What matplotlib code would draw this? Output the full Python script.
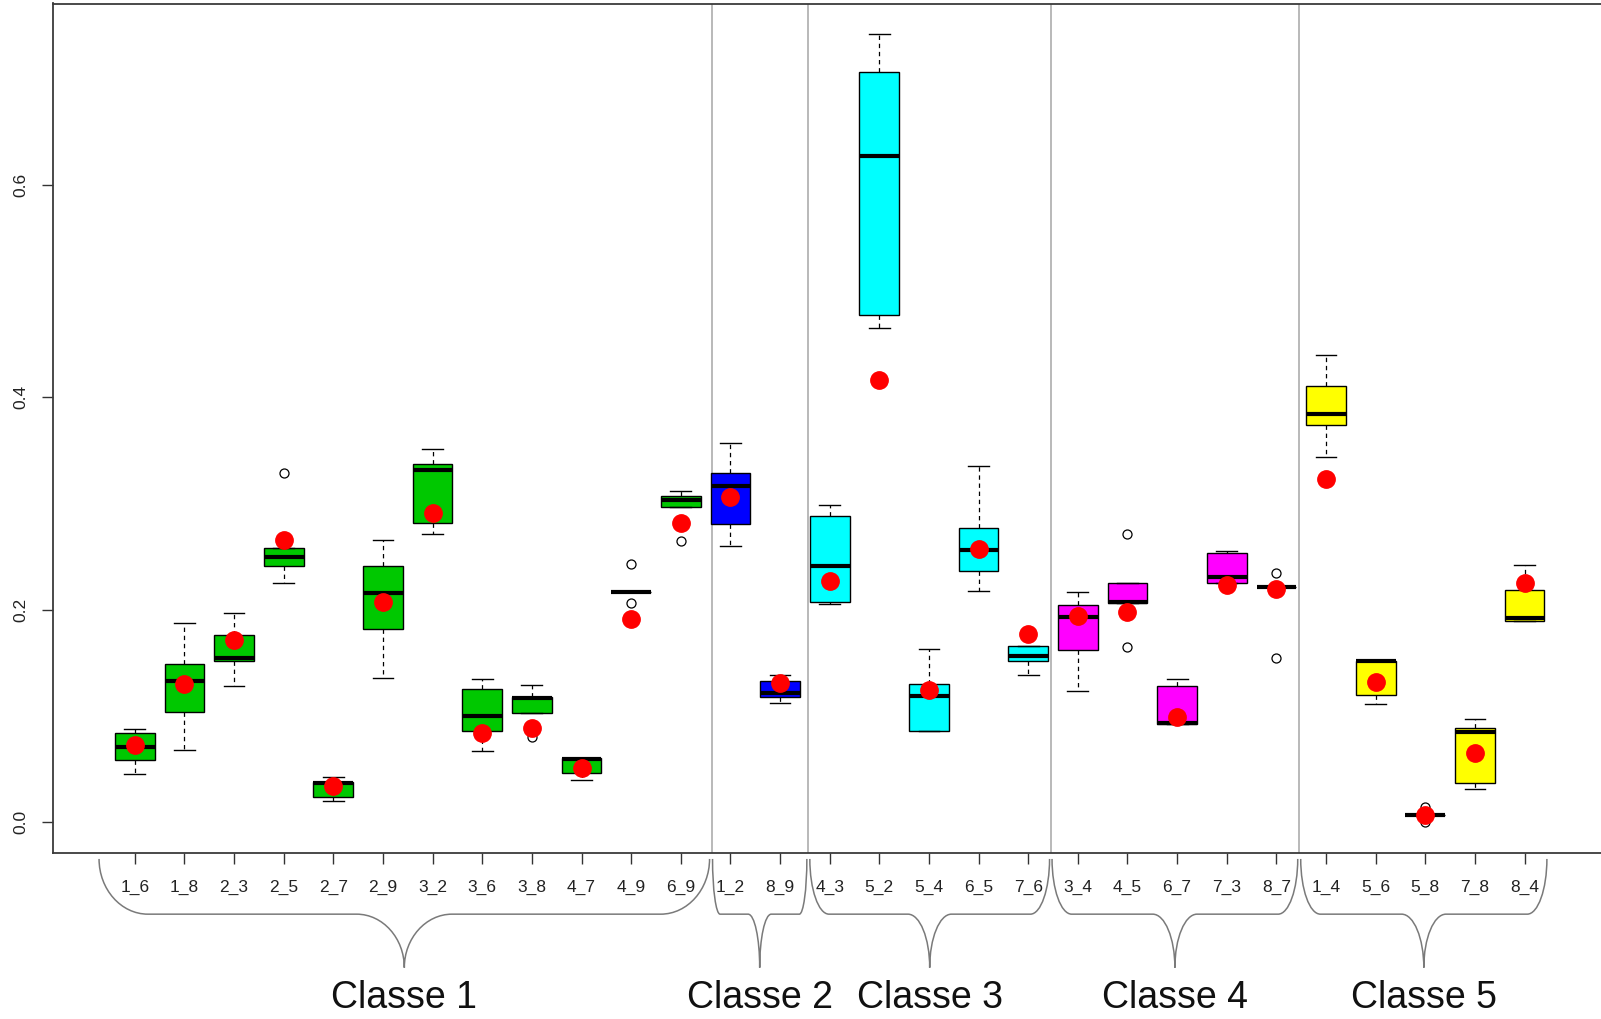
import matplotlib
matplotlib.use("Agg")
import matplotlib.pyplot as plt
import matplotlib.transforms as mtransforms
from matplotlib.path import Path
from matplotlib.patches import PathPatch

# DATA
pairs = ["1_6", "1_8", "2_3", "2_5", "2_7", "2_9", "3_2", "3_6", "3_8", "4_7", "4_9", "6_9",
         "1_2", "8_9",
         "4_3", "5_2", "5_4", "6_5", "7_6",
         "3_4", "4_5", "6_7", "7_3", "8_7",
         "1_4", "5_6", "5_8", "7_8", "8_4"]
classes = ["Classe 1", "Classe 2", "Classe 3", "Classe 4", "Classe 5"]
class_sizes = [12, 2, 5, 5, 5]
class_colors = ["#00c800", "#0000ff", "#00ffff", "#ff00ff", "#ffff00"]

med = [0.0702, 0.133, 0.1543, 0.2498, 0.0369, 0.2155, 0.3314, 0.0997, 0.1164, 0.0593, 0.2162, 0.3031,
       0.3163, 0.1211,
       0.241, 0.6274, 0.1186, 0.2558, 0.1562,
       0.1932, 0.2074, 0.0928, 0.2303, 0.2216,
       0.3838, 0.1511, 0.0065, 0.0845, 0.1921]
q1 = [0.0583, 0.1038, 0.1518, 0.241, 0.0237, 0.182, 0.2812, 0.0856, 0.1029, 0.0457, 0.2162, 0.2962,
      0.2802, 0.1173,
      0.2068, 0.4773, 0.0856, 0.2366, 0.1518,
      0.1616, 0.2064, 0.0919, 0.2247, 0.2216,
      0.3738, 0.1195, 0.0065, 0.0367, 0.1888]
q3 = [0.0834, 0.1487, 0.176, 0.2579, 0.0379, 0.241, 0.337, 0.1255, 0.1173, 0.0605, 0.2162, 0.3072,
      0.3283, 0.133,
      0.2884, 0.7064, 0.1299, 0.2768, 0.1659,
      0.204, 0.2247, 0.128, 0.2529, 0.2216,
      0.4101, 0.1511, 0.0065, 0.0885, 0.2184]
whislo = [0.0451, 0.0677, 0.128, 0.2253, 0.0197, 0.1352, 0.2711, 0.0668, 0.1029, 0.0395, 0.2162, 0.2962,
          0.2601, 0.1117,
          0.2052, 0.4654, 0.0856, 0.2172, 0.1383,
          0.1233, 0.2064, 0.0919, 0.2247, 0.2216,
          0.3435, 0.1114, 0.0065, 0.0314, 0.1888]
whishi = [0.0878, 0.1876, 0.197, 0.2579, 0.042, 0.2655, 0.3509, 0.1343, 0.1289, 0.0605, 0.2162, 0.3116,
          0.3565, 0.1383,
          0.2981, 0.7417, 0.1625, 0.3354, 0.1659,
          0.2168, 0.2247, 0.1343, 0.2554, 0.2216,
          0.44, 0.1511, 0.0065, 0.0969, 0.2419]
fliers = [[], [], [], [0.3289], [], [], [], [], [0.0803], [], [0.2426, 0.2064], [0.2645],
          [], [],
          [], [], [], [], [],
          [], [0.2711, 0.165], [], [], [0.2347, 0.1542],
          [], [], [0.014, 0.0], [], []]
means = [0.0721, 0.1296, 0.1713, 0.2655, 0.0338, 0.2074, 0.2912, 0.0834, 0.0881, 0.0511, 0.1908, 0.2818,
         0.3057, 0.1305,
         0.2269, 0.4161, 0.1242, 0.2567, 0.1769,
         0.1939, 0.1974, 0.0991, 0.2231, 0.219,
         0.3226, 0.1316, 0.0065, 0.065, 0.2248]

separators = [12.62, 14.57, 19.45, 24.46]
brace_spans = [(0.28, 12.58), (12.64, 14.54), (14.6, 19.43), (19.48, 24.43), (24.49, 29.45)]

positions = list(range(1, len(pairs) + 1))
colors = []
for c, n in zip(class_colors, class_sizes):
    colors += [c] * n

stats = []
for i in range(len(pairs)):
    stats.append(dict(med=med[i], q1=q1[i], q3=q3[i], whislo=whislo[i], whishi=whishi[i],
                      fliers=fliers[i], label=pairs[i]))

fig = plt.figure(figsize=(16.01, 10.19), dpi=100)
ax = fig.add_axes([53 / 1601, (1019 - 853) / 1019, (1601 - 53) / 1601, (853 - 3.5) / 1019])

for x in separators:
    ax.axvline(x, color="#a6a6a6", lw=1.1, zorder=1)

bp = ax.bxp(stats, positions=positions, widths=0.8, capwidths=0.42, patch_artist=True,
            boxprops=dict(edgecolor="black", linewidth=1.0),
            medianprops=dict(color="black", linewidth=3.0, solid_capstyle="butt"),
            whiskerprops=dict(color="black", linewidth=0.9, linestyle=(0, (3.5, 3))),
            capprops=dict(color="black", linewidth=1.0),
            flierprops=dict(marker="o", markerfacecolor="none", markeredgecolor="black",
                            markersize=6.5, markeredgewidth=0.9))
for patch, col in zip(bp["boxes"], colors):
    patch.set_facecolor(col)
    patch.set_zorder(2)

ax.plot(positions, means, "o", color="#ff0000", markersize=12.5, zorder=5, linestyle="none")

ax.set_xlim(-0.648, 30.54)
ax.set_ylim(-0.0293, 0.7707)
ax.set_xticks(positions)
ax.set_xticklabels(pairs)
ax.set_yticks([0.0, 0.2, 0.4, 0.6])
ax.set_yticklabels(["0.0", "0.2", "0.4", "0.6"])

tick_font = ["Liberation Sans", "DejaVu Sans"]
for lab in ax.get_xticklabels() + ax.get_yticklabels():
    lab.set_family(tick_font)
    lab.set_fontsize(12.5)
    lab.set_color("#222222")
ax.tick_params(axis="x", length=8, width=1.0, pad=11, color="#333333")
ax.tick_params(axis="y", length=8, width=1.0, pad=10, color="#333333", labelrotation=90)
for lab in ax.get_yticklabels():
    lab.set_verticalalignment("center")

for side in ["top", "left", "bottom"]:
    ax.spines[side].set_color("#3a3a3a")
    ax.spines[side].set_linewidth(1.3)
ax.spines["right"].set_visible(False)

# curly braces under the axis, one per class
trans = mtransforms.blended_transform_factory(ax.transData, ax.transAxes)
y_top, y_h, y_tip = -0.007, -0.072, -0.135
k = 0.55
for (x0, x1), name in zip(brace_spans, classes):
    w = x1 - x0
    xm = (x0 + x1) / 2
    rx = 0.08 * w
    rc = 0.07 * w + 0.1
    verts = [(x0, y_top),
             (x0, y_top + k * (y_h - y_top)), (x0 + rx * (1 - k), y_h), (x0 + rx, y_h),
             (xm - rc, y_h),
             (xm - rc + k * rc, y_h), (xm, y_h + (1 - k) * (y_tip - y_h)), (xm, y_tip),
             (xm, y_h + (1 - k) * (y_tip - y_h)), (xm + rc - k * rc, y_h), (xm + rc, y_h),
             (x1 - rx, y_h),
             (x1 - rx * (1 - k), y_h), (x1, y_top + k * (y_h - y_top)), (x1, y_top)]
    codes = [Path.MOVETO,
             Path.CURVE4, Path.CURVE4, Path.CURVE4,
             Path.LINETO,
             Path.CURVE4, Path.CURVE4, Path.CURVE4,
             Path.CURVE4, Path.CURVE4, Path.CURVE4,
             Path.LINETO,
             Path.CURVE4, Path.CURVE4, Path.CURVE4]
    ax.add_patch(PathPatch(Path(verts, codes), facecolor="none", edgecolor="#7a7a7a",
                           lw=1.1, transform=trans, clip_on=False))
    ax.text(xm, -0.171, name, transform=trans, ha="center", va="center",
            fontsize=27, family=["Liberation Sans", "DejaVu Sans"], color="#111111")

fig.savefig("out.png", dpi=100)
